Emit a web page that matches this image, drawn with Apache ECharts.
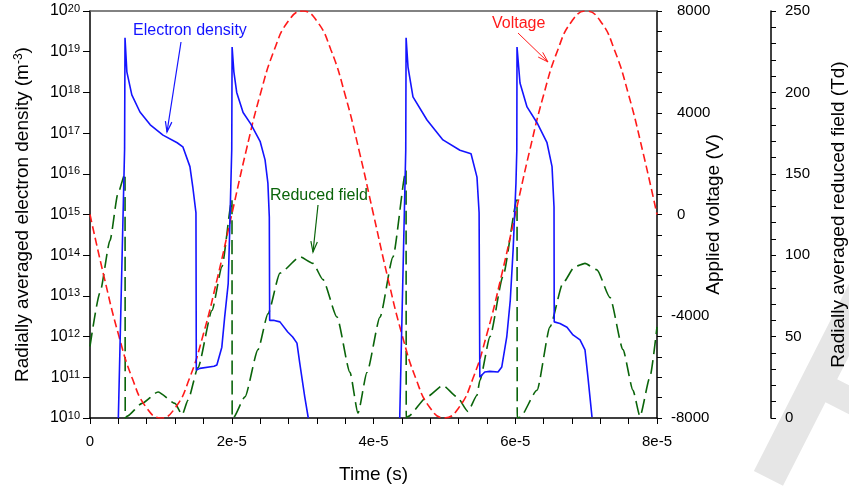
<!DOCTYPE html>
<html><head><meta charset="utf-8">
<script src="https://cdn.jsdelivr.net/npm/echarts@6/dist/echarts.min.js"></script>
<style>html,body{margin:0;padding:0;background:#fff}#c{width:849px;height:488px}</style>
</head><body><div id="c"></div>
<script>
// time values are in units of 1e-5 s
const xTickLabels = ['0', '2e-5', '4e-5', '6e-5', '8e-5'];

// Applied voltage (V)
const voltTime = [0,0.2,0.4,0.6,0.8,1.0,1.2,1.4,1.6,1.8,2.0,2.2,2.4,2.6,2.8,3.0,3.2,3.4,3.6,3.8,4.0,
  4.2,4.4,4.6,4.8,5.0,5.2,5.4,5.6,5.8,6.0,6.2,6.4,6.6,6.8,7.0,7.2,7.4,7.6,7.8,8.0];
const voltage = [0,-2470,-4700,-6470,-7610,-8000,-7610,-6470,-4700,-2470,0,2470,4700,6470,7610,8000,7610,6470,4700,2470,0,
  -2470,-4700,-6470,-7610,-8000,-7610,-6470,-4700,-2470,0,2470,4700,6470,7610,8000,7610,6470,4700,2470,0];

// Radially averaged electron density (m^-3); null = below axis range (gap)
const densTime = [0.40,0.488,0.494,0.52,0.59,0.705,0.85,1.03,1.23,1.31,1.41,1.45,1.495,1.50,1.55,1.75,1.79,1.86,1.90,1.95,1.97,2.00,2.005,
  2.03,2.07,2.16,2.27,2.40,2.47,2.51,2.53,2.535,2.60,2.68,2.79,2.86,2.92,2.96,3.03,3.08,
  3.6,
  4.37,4.455,4.46,4.487,4.557,4.755,4.98,5.22,5.376,5.46,5.49,5.50,5.57,5.64,5.757,5.81,5.88,5.93,5.97,6.01,6.022,6.025,
  6.067,6.166,6.307,6.448,6.519,6.547,6.55,6.631,6.73,6.815,6.914,6.984,7.026,7.083];
const density = [1e10,4e16,2.2e19,3.2e18,8.7e17,3.3e17,1.6e17,8.9e16,5.8e16,4.6e16,1.5e16,4.8e15,1.1e15,1.5e11,1.66e11,1.86e11,2.0e11,5.5e11,3.0e12,2.0e13,3.5e14,4e16,1.3e19,
  3.2e18,1.0e18,3.2e17,1.66e17,6.3e16,2.2e16,5.9e15,8.7e14,2.5e12,2.5e12,2.3e12,1.3e12,9.8e11,6.9e11,2.2e11,3.3e10,1e10,
  null,
  1e10,3.8e16,2.2e19,4.2e18,7.8e17,2.1e17,6.8e16,3.8e16,3.1e16,8.3e15,1.1e15,1.0e11,1.35e11,1.4e11,1.35e11,1.8e11,9.8e11,7.9e12,1.35e14,5.9e15,3.8e16,1.3e19,
  1.7e18,4.4e17,1.8e17,5.8e16,1.5e16,1.5e15,2.3e12,2.1e12,1.7e12,1.1e12,8.3e11,4.7e11,1.0e11,1.05e10];

// Radially averaged reduced field (Td)
const fieldTime = [0,0.141,0.282,0.395,0.494,0.497,0.52,0.734,0.96,1.199,1.30,1.383,1.524,1.721,1.862,2.003,2.006,
  2.02,2.187,2.37,2.511,2.68,2.963,3.146,3.287,3.485,3.668,3.781,3.908,4.092,4.275,4.459,4.462,
  4.49,4.755,4.98,5.178,5.333,5.46,5.50,5.644,5.827,6.025,6.028,
  6.07,6.307,6.49,6.674,6.84,6.984,7.153,7.337,7.52,7.661,7.76,7.90,8.0];
const field = [44,77,109,138,150,0,1,9,16,9,2,11,31,66,93,134,0,
  0,13,42,64,89,99,95,85,62,28,3,28,62,99,152,0,
  1,13,20,13,4,14,23,50,87,134,0,
  0.5,17,56,83,93,95,91,74,42,17,1,25,56];

const FONT = 'Liberation Sans, Arial, sans-serif';
const BLUE = '#1414ff', RED = '#ff1a1a', GREEN = '#0a640a';

function zip(a, b) { return a.map((x, i) => [x, b[i]]); }

function arrow(x1, y1, x2, y2, color, w) {
  const dx = x2 - x1, dy = y2 - y1, L = Math.hypot(dx, dy), ux = dx / L, uy = dy / L;
  const h = 11, a = 0.3;
  const c = Math.cos(a), s = Math.sin(a);
  const p1 = [x2 - h * (ux * c - uy * s), y2 - h * (uy * c + ux * s)];
  const p2 = [x2 - h * (ux * c + uy * s), y2 - h * (uy * c - ux * s)];
  return [
    { type: 'line', shape: { x1, y1, x2, y2 }, style: { stroke: color, lineWidth: w } },
    { type: 'polyline', shape: { points: [p1, [x2, y2], p2] }, style: { stroke: color, lineWidth: w, fill: null } }
  ];
}

const chart = echarts.init(document.getElementById('c'), null, { renderer: 'canvas' });
chart.setOption({
  animation: false,
  backgroundColor: '#fff',
  textStyle: { fontFamily: FONT },
  grid: { left: 90, right: 192, top: 11, bottom: 70, containLabel: false, outerBoundsMode: 'none' },
  xAxis: [{
    type: 'value', min: 0, max: 8, interval: 2, position: 'bottom',
    name: 'Time (s)', nameLocation: 'middle', nameGap: 47,
    nameTextStyle: { fontSize: 19, color: '#000', fontFamily: FONT },
    axisLine: { onZero: false, lineStyle: { color: '#000', width: 1.5 } },
    axisTick: { show: true, inside: false, length: 6, lineStyle: { color: '#000', width: 1 } },
    minorTick: { show: true, splitNumber: 5, length: 6, lineStyle: { color: '#000', width: 1 } },
    axisLabel: { margin: 16, fontSize: 15, color: '#000', fontFamily: FONT,
      formatter: v => xTickLabels[Math.round(v / 2)] },
    splitLine: { show: false }
  }, {
    type: 'value', min: 0, max: 8, position: 'top',
    axisLine: { show: true, onZero: false, lineStyle: { color: '#5a5a5a', width: 1.6 } },
    axisTick: { show: false }, axisLabel: { show: false }, splitLine: { show: false }
  }],
  yAxis: [{
    type: 'log', logBase: 10, min: 1e10, max: 1e20, interval: 1, position: 'left',
    name: 'Radially averaged electron density (m{sup|-3})',
    nameLocation: 'middle', nameGap: 58, nameRotate: 90,
    nameTextStyle: { fontSize: 19, color: '#000', fontFamily: FONT,
      rich: { sup: { fontSize: 12, verticalAlign: 'top', lineHeight: 12, color: '#000', fontFamily: FONT } } },
    axisLine: { show: true, onZero: false, lineStyle: { color: '#000', width: 1.5 } },
    axisTick: { show: true, inside: false, length: 7, lineStyle: { color: '#000', width: 1 } },
    axisLabel: { margin: 10, color: '#000', fontFamily: FONT,
      formatter: v => '{b|10}{s|' + Math.round(Math.log10(v)) + '}',
      rich: {
        b: { fontSize: 16, color: '#000', fontFamily: FONT },
        s: { fontSize: 11, lineHeight: 11, verticalAlign: 'top', color: '#000', fontFamily: FONT }
      } },
    splitLine: { show: false }
  }, {
    type: 'value', min: -8000, max: 8000, interval: 4000, position: 'right', offset: 0,
    name: 'Applied voltage (V)', nameLocation: 'middle', nameGap: 47, nameRotate: 90, nameMoveOverlap: false,
    nameTextStyle: { fontSize: 19, color: '#000', fontFamily: FONT },
    axisLine: { show: true, onZero: false, lineStyle: { color: '#000', width: 1.5 } },
    axisTick: { show: true, inside: false, length: 5, lineStyle: { color: '#000', width: 1 } },
    minorTick: { show: true, splitNumber: 5, length: 5, lineStyle: { color: '#000', width: 1 } },
    axisLabel: { margin: 14, fontSize: 15, color: '#000', fontFamily: FONT,
      formatter: v => v < 0 ? '{n|' + v + '}' : '{p|' + v + '}',
      rich: { n: { fontSize: 15, color: '#000', fontFamily: FONT },
              p: { fontSize: 15, color: '#000', fontFamily: FONT, padding: [0, 0, 0, 6] } } },
    splitLine: { show: false }
  }, {
    type: 'value', min: 0, max: 250, interval: 50, position: 'right', offset: 114,
    name: 'Radially averaged reduced field (Td)', nameLocation: 'middle', nameGap: 58, nameRotate: 90,
    nameTextStyle: { fontSize: 19, color: '#000', fontFamily: FONT },
    axisLine: { show: true, onZero: false, lineStyle: { color: '#000', width: 1.5 } },
    axisTick: { show: true, inside: false, length: 5, lineStyle: { color: '#000', width: 1 } },
    minorTick: { show: true, splitNumber: 5, length: 5, lineStyle: { color: '#000', width: 1 } },
    axisLabel: { margin: 14, fontSize: 15, color: '#000', fontFamily: FONT },
    splitLine: { show: false }
  }],
  series: [{
    name: 'Reduced field', type: 'line', xAxisIndex: 0, yAxisIndex: 2, data: zip(fieldTime, field),
    showSymbol: false, smooth: 0.2, smoothMonotone: 'x', z: 2,
    lineStyle: { color: GREEN, width: 1.6, type: [14, 6] }
  }, {
    name: 'Voltage', type: 'line', xAxisIndex: 0, yAxisIndex: 1, data: zip(voltTime, voltage),
    showSymbol: false, smooth: true, z: 3,
    lineStyle: { color: RED, width: 1.6, type: [8, 4] }
  }, {
    name: 'Electron density', type: 'line', xAxisIndex: 0, yAxisIndex: 0, data: zip(densTime, density),
    showSymbol: false, connectNulls: false, z: 4,
    lineStyle: { color: BLUE, width: 1.6 }
  }],
  graphic: [
    { type: 'text', z: -10, x: 772, y: 372, rotation: -0.47, silent: true,
      style: { text: 'Proof', font: '350px Liberation Sans, Arial, sans-serif', fill: '#e6e6e6',
        align: 'left', verticalAlign: 'middle' } },
    { type: 'text', x: 133, y: 31, style: { text: 'Electron density', fill: BLUE, font: '16px Liberation Sans, Arial, sans-serif', align: 'left', verticalAlign: 'middle' } },
    ...arrow(181, 42, 167, 132, BLUE, 1.2),
    { type: 'text', x: 492, y: 24, style: { text: 'Voltage', fill: RED, font: '16px Liberation Sans, Arial, sans-serif', align: 'left', verticalAlign: 'middle' } },
    ...arrow(518, 33, 548, 62, RED, 1),
    { type: 'text', x: 270, y: 196, style: { text: 'Reduced field', fill: GREEN, font: '16px Liberation Sans, Arial, sans-serif', align: 'left', verticalAlign: 'middle' } },
    ...arrow(318, 205, 313, 252, GREEN, 1.2)
  ]
});
</script>
</body></html>
